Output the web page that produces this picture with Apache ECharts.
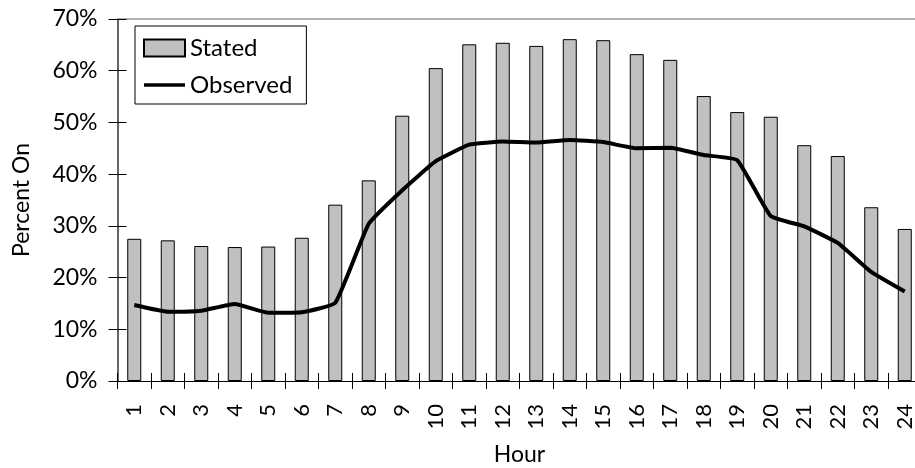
<!DOCTYPE html>
<html>
<head>
<meta charset="utf-8">
<script src="https://cdn.jsdelivr.net/npm/echarts@6/dist/echarts.min.js"></script>
<style>html,body{margin:0;padding:0;background:#fff}#c{width:915px;height:468px}</style>
</head>
<body>
<div id="c"></div>
<script>
var hours = ['1','2','3','4','5','6','7','8','9','10','11','12','13','14','15','16','17','18','19','20','21','22','23','24'];
var stated = [27.5,27.2,26.1,25.9,26.0,27.7,34.1,38.8,51.3,60.5,65.1,65.4,64.8,66.1,65.9,63.2,62.1,55.1,52.0,51.1,45.6,43.5,33.6,29.4];
var observed = [14.7,13.4,13.6,14.9,13.2,13.3,15.1,30.4,36.9,42.5,45.7,46.3,46.1,46.6,46.2,45.0,45.1,43.7,42.7,31.9,29.9,26.7,21.1,17.3];
var yTicks = [0,10,20,30,40,50,60,70];

var FONT = 'Lato';
var chart = echarts.init(document.getElementById('c'), null, {renderer:'canvas'});
chart.setOption({
  animation: false,
  backgroundColor: '#fff',
  textStyle: {fontFamily: FONT, color: '#000'},
  grid: {left: 117.5, top: 19, bottom: 87, width: 804, containLabel: false, outerBoundsMode: 'none'},
  legend: {
    left: 135, top: 26,
    orient: 'vertical',
    backgroundColor: '#fff',
    borderColor: '#000', borderWidth: 1, borderRadius: 0,
    padding: [10, 14, 7, 8],
    itemWidth: 41, itemHeight: 17, itemGap: 13,
    symbolKeepAspect: true,
    textStyle: {fontFamily: FONT, fontSize: 24, color: '#000', lineHeight: 24},
    data: [{name: 'Stated', icon: 'rect'}, {name: 'Observed', icon: 'path://M0,0L44,0L44,4L0,4Z', itemStyle: {color: '#000', borderWidth: 0}}]
  },
  xAxis: [{
    type: 'category', data: hours, position: 'bottom',
    name: 'Hour', nameLocation: 'middle', nameGap: 62,
    nameTextStyle: {fontFamily: FONT, fontSize: 23, color: '#000'},
    axisLine: {lineStyle: {color: '#000', width: 1}},
    axisTick: {show: true, inside: false, length: 8, lineStyle: {color: '#000'}},
    axisLabel: {rotate: 90, margin: 23, fontFamily: FONT, fontSize: 22, color: '#000', interval: 0}
  },{
    type: 'category', data: hours, position: 'bottom',
    axisLine: {show: false},
    axisTick: {show: true, inside: true, length: 8, lineStyle: {color: '#000'}},
    axisLabel: {show: false}
  },{
    type: 'category', data: hours, position: 'top',
    axisLine: {show: true, lineStyle: {color: '#999', width: 1.5}},
    axisTick: {show: false},
    axisLabel: {show: false}
  }],
  yAxis: [{
    type: 'value', min: 0, max: 70, interval: 10, position: 'left',
    name: 'Percent On', nameLocation: 'middle', nameGap: 84, nameRotate: 90,
    nameTextStyle: {fontFamily: FONT, fontSize: 23, color: '#000'},
    axisLine: {show: true, lineStyle: {color: '#333', width: 1.5}},
    axisTick: {show: true, inside: false, length: 9, lineStyle: {color: '#000'}},
    axisLabel: {margin: 20, fontFamily: FONT, fontSize: 23, color: '#000', formatter: '{value}%'},
    splitLine: {show: false}
  },{
    type: 'value', min: 0, max: 70, interval: 10, position: 'left',
    axisLine: {show: false},
    axisTick: {show: true, inside: true, length: 9, lineStyle: {color: '#000'}},
    axisLabel: {show: false},
    splitLine: {show: false}
  }],
  series: [{
    name: 'Stated', type: 'bar', data: stated, barWidth: 14,
    xAxisIndex: 0, yAxisIndex: 0,
    itemStyle: {color: '#c0c0c0', borderColor: '#000', borderWidth: 1}
  },{
    name: 'Observed', type: 'line', data: observed,
    xAxisIndex: 0, yAxisIndex: 0,
    symbol: 'none', smooth: 0.12,
    lineStyle: {color: '#000', width: 4},
    itemStyle: {color: '#000'}
  }]
});
</script>
</body>
</html>
